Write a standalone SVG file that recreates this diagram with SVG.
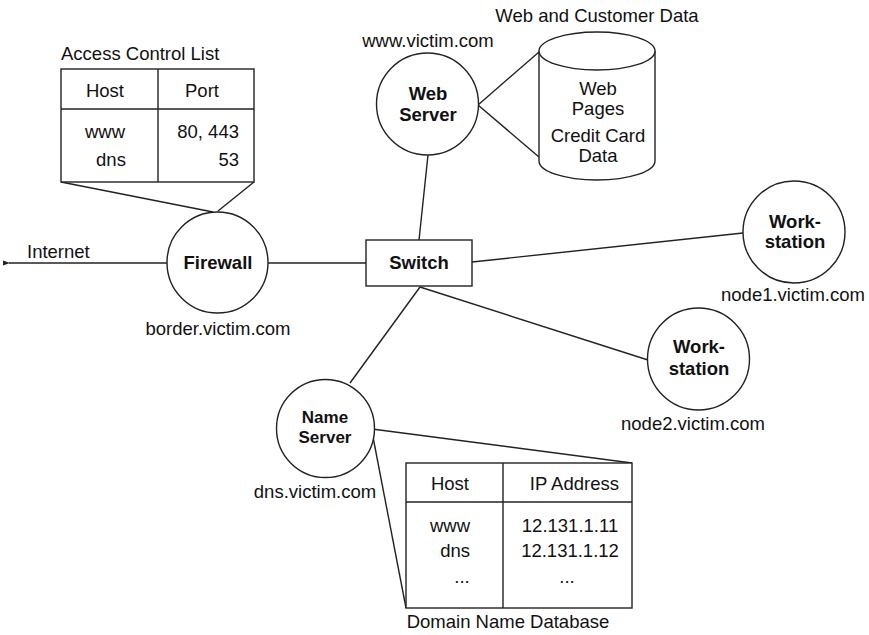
<svg xmlns="http://www.w3.org/2000/svg" width="869" height="635" viewBox="0 0 869 635">
<style>
text{font-family:"Liberation Sans",Arial,sans-serif;font-size:18.5px;fill:#111}
.b{font-weight:bold}
.m{text-anchor:middle}
.e{text-anchor:end}
.sm{font-size:17px}
.s{fill:#fff;stroke:#222;stroke-width:1.4}
.c line{stroke:#222;stroke-width:1.4;fill:none}
</style>
<defs>
<marker id="ah" markerWidth="8" markerHeight="6" refX="1" refY="3" orient="auto-start-reverse" markerUnits="userSpaceOnUse">
<path d="M0,3 L7,0.5 L7,5.5 Z" fill="#222"/>
</marker>
</defs>
<rect width="869" height="635" fill="#fff"/>
<g id="connectors" class="c">
<line x1="167" y1="263" x2="9" y2="263" marker-end="url(#ah)"/>
<line x1="268" y1="263" x2="366" y2="263"/>
<line x1="428" y1="155" x2="419" y2="240"/>
<line x1="472" y1="262" x2="743" y2="233"/>
<line x1="420" y1="287" x2="648" y2="360"/>
<line x1="420" y1="287" x2="350" y2="383"/>
<line x1="478" y1="105" x2="539" y2="52"/>
<line x1="478" y1="105" x2="539" y2="157"/>
<line x1="61" y1="182" x2="213" y2="212"/>
<line x1="254" y1="182" x2="218" y2="211"/>
<line x1="372" y1="429" x2="632" y2="463"/>
<line x1="373" y1="437" x2="406" y2="608"/>
</g>
<text x="27" y="258">Internet</text>
<g id="acl">
<text x="61" y="60">Access Control List</text>
<rect class="s" x="61" y="69" width="193" height="113"/>
<line x1="61" y1="109" x2="254" y2="109" stroke="#222" stroke-width="1.4"/>
<line x1="158" y1="69" x2="158" y2="182" stroke="#222" stroke-width="1.4"/>
<text class="m" x="105" y="97">Host</text>
<text class="m" x="202" y="97">Port</text>
<text class="m" x="105" y="138">www</text>
<text class="m" x="111" y="166">dns</text>
<text class="e" x="239" y="138">80, 443</text>
<text class="e" x="239" y="166">53</text>
</g>
<g id="firewall">
<circle class="s" cx="217.5" cy="262.5" r="50.5"/>
<text class="b m" x="218" y="269">Firewall</text>
<text class="m" x="218" y="335">border.victim.com</text>
</g>
<g id="switch">
<rect class="s" x="366" y="240" width="106" height="46"/>
<text class="b m" x="419" y="269">Switch</text>
</g>
<g id="webserver">
<text class="m" x="428" y="47">www.victim.com</text>
<circle class="s" cx="427.5" cy="104" r="51"/>
<text class="b m" x="428" y="100">Web</text>
<text class="b m" x="428" y="121">Server</text>
</g>
<g id="database">
<text class="m" x="597" y="22">Web and Customer Data</text>
<path class="s" d="M539,51 L539,161 A58,19 0 0 0 655,161 L655,51"/>
<ellipse class="s" cx="597" cy="51" rx="58" ry="19"/>
<text class="m" x="598" y="95">Web</text>
<text class="m" x="598" y="115">Pages</text>
<text class="m" x="598" y="142">Credit Card</text>
<text class="m" x="598" y="162">Data</text>
</g>
<g id="workstation1">
<circle class="s" cx="794" cy="232" r="51"/>
<text class="b m" x="795" y="228">Work-</text>
<text class="b m" x="795" y="248">station</text>
<text class="m" x="793" y="301">node1.victim.com</text>
</g>
<g id="workstation2">
<circle class="s" cx="698.5" cy="359" r="51"/>
<text class="b m" x="699" y="353">Work-</text>
<text class="b m" x="699" y="375">station</text>
<text class="m" x="693" y="430">node2.victim.com</text>
</g>
<g id="nameserver">
<circle class="s" cx="325.5" cy="428.5" r="49"/>
<text class="b m sm" x="325" y="423">Name</text>
<text class="b m sm" x="325" y="443">Server</text>
<text class="m" x="315" y="498">dns.victim.com</text>
</g>
<g id="dnsdb">
<rect class="s" x="406" y="463" width="226" height="145"/>
<line x1="406" y1="502" x2="632" y2="502" stroke="#222" stroke-width="1.4"/>
<line x1="503" y1="463" x2="503" y2="608" stroke="#222" stroke-width="1.4"/>
<text class="m" x="450" y="490">Host</text>
<text class="e" x="619" y="490">IP Address</text>
<text class="m" x="450" y="532">www</text>
<text class="e" x="470" y="557">dns</text>
<text class="m" x="462" y="583">...</text>
<text class="m" x="570" y="532">12.131.1.11</text>
<text class="m" x="570" y="557">12.131.1.12</text>
<text class="m" x="567" y="583">...</text>
<text class="m" x="508" y="628">Domain Name Database</text>
</g>
</svg>
